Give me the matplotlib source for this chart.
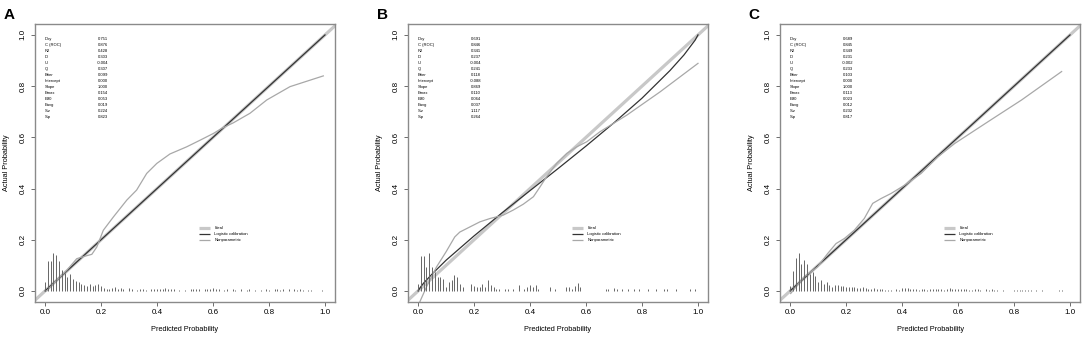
import matplotlib.pyplot as plt

plt.rcParams['font.family'] = ['Liberation Sans', 'DejaVu Sans']

# statistics printed in the top-left corner of each panel
stat_names = ["Dxy", "C (ROC)", "R2", "D", "U", "Q", "Brier", "Intercept",
              "Slope", "Emax", "E90", "Eavg", "S:z", "S:p"]
stats_a = ["0.751", "0.876", "0.428", "0.303", "-0.004", "0.307", "0.099",
           "0.000", "1.000", "0.154", "0.053", "0.019", "0.224", "0.823"]
stats_b = ["0.691", "0.846", "0.341", "0.237", "-0.004", "0.241", "0.118",
           "-0.088", "0.869", "0.110", "0.064", "0.037", "1.117", "0.264"]
stats_c = ["0.689", "0.845", "0.349", "0.231", "-0.002", "0.233", "0.103",
           "0.000", "1.000", "0.113", "0.023", "0.012", "0.232", "0.817"]

# logistic calibration curves
a_logit_x = [0.0, 1.0]
a_logit_y = [0.0, 1.0]
b_logit_x = [0.0, 0.01, 0.02, 0.05, 0.10, 0.20, 0.30, 0.40, 0.50, 0.60,
             0.70, 0.80, 0.90, 0.95, 0.99, 1.0]
b_logit_y = [0.0, 0.017, 0.031, 0.066, 0.120, 0.215, 0.305, 0.392, 0.478, 0.566,
             0.657, 0.753, 0.861, 0.922, 0.980, 1.0]
c_logit_x = [0.0, 1.0]
c_logit_y = [0.0, 1.0]

# nonparametric (loess) curves
a_np_x = [0.006, 0.04, 0.077, 0.113, 0.143, 0.167, 0.185, 0.208, 0.244, 0.292,
          0.327, 0.363, 0.399, 0.446, 0.506, 0.554, 0.601, 0.631, 0.673, 0.732,
          0.792, 0.875, 0.994]
a_np_y = [0.0, 0.04, 0.08, 0.126, 0.136, 0.143, 0.172, 0.237, 0.289, 0.355,
          0.394, 0.459, 0.498, 0.535, 0.563, 0.589, 0.615, 0.635, 0.657, 0.694,
          0.746, 0.798, 0.84]
b_np_x = [0.006, 0.03, 0.066, 0.10, 0.131, 0.149, 0.185, 0.221, 0.257, 0.304,
          0.34, 0.376, 0.412, 0.436, 0.459, 0.495, 0.531, 0.567, 0.603, 0.65,
          0.746, 0.865, 1.0]
b_np_y = [-0.043, 0.016, 0.094, 0.153, 0.211, 0.23, 0.25, 0.27, 0.283, 0.296,
          0.316, 0.339, 0.368, 0.407, 0.446, 0.498, 0.537, 0.563, 0.583, 0.622,
          0.687, 0.778, 0.889]
c_np_x = [0.002, 0.05, 0.098, 0.134, 0.164, 0.194, 0.229, 0.265, 0.295, 0.325,
          0.361, 0.409, 0.468, 0.528, 0.588, 0.707, 0.827, 0.97]
c_np_y = [-0.01, 0.055, 0.094, 0.146, 0.185, 0.205, 0.237, 0.283, 0.342, 0.361,
          0.381, 0.413, 0.459, 0.524, 0.576, 0.661, 0.746, 0.857]

# spike histograms of predicted probabilities
a_spike_x = [0.00, 0.01, 0.02, 0.03, 0.04, 0.05, 0.06, 0.07, 0.08, 0.09,
             0.10, 0.11, 0.12, 0.13, 0.14, 0.15, 0.16, 0.17, 0.18, 0.19,
             0.20, 0.21, 0.22, 0.23, 0.24, 0.25, 0.26, 0.27, 0.28, 0.30,
             0.31, 0.33, 0.34, 0.35, 0.36, 0.38, 0.39, 0.40, 0.41, 0.42,
             0.43, 0.44, 0.45, 0.46, 0.48, 0.50, 0.52, 0.53, 0.54, 0.55,
             0.57, 0.58, 0.59, 0.60, 0.61, 0.62, 0.64, 0.65, 0.67, 0.68,
             0.70, 0.72, 0.73, 0.75, 0.77, 0.79, 0.80, 0.82, 0.83, 0.84,
             0.85, 0.87, 0.89, 0.90, 0.91, 0.92, 0.94, 0.95, 0.99]
a_spike_h = [0.035, 0.117, 0.117, 0.150, 0.140, 0.117, 0.080, 0.070, 0.055, 0.065,
             0.045, 0.038, 0.033, 0.028, 0.024, 0.020, 0.026, 0.018, 0.022, 0.026,
             0.018, 0.012, 0.008, 0.006, 0.010, 0.016, 0.008, 0.012, 0.006, 0.010,
             0.006, 0.004, 0.006, 0.006, 0.004, 0.008, 0.006, 0.008, 0.006, 0.008,
             0.012, 0.008, 0.008, 0.008, 0.004, 0.004, 0.006, 0.008, 0.006, 0.006,
             0.008, 0.008, 0.006, 0.010, 0.006, 0.006, 0.004, 0.006, 0.006, 0.004,
             0.006, 0.004, 0.006, 0.004, 0.004, 0.006, 0.004, 0.006, 0.006, 0.004,
             0.006, 0.008, 0.006, 0.004, 0.006, 0.004, 0.004, 0.004, 0.004]
b_spike_x = [0.00, 0.01, 0.02, 0.03, 0.04, 0.05, 0.06, 0.07, 0.08, 0.09,
             0.10, 0.11, 0.12, 0.13, 0.14, 0.15, 0.16, 0.19, 0.20, 0.21,
             0.22, 0.23, 0.24, 0.25, 0.26, 0.27, 0.28, 0.29, 0.31, 0.32,
             0.34, 0.36, 0.38, 0.39, 0.40, 0.41, 0.42, 0.43, 0.47, 0.49,
             0.53, 0.54, 0.55, 0.56, 0.57, 0.58, 0.67, 0.68, 0.70, 0.71,
             0.73, 0.75, 0.77, 0.79, 0.82, 0.85, 0.88, 0.89, 0.92, 0.97,
             0.99]
b_spike_h = [0.026, 0.136, 0.136, 0.094, 0.150, 0.094, 0.074, 0.055, 0.055, 0.048,
             0.016, 0.035, 0.042, 0.061, 0.055, 0.028, 0.016, 0.028, 0.020, 0.016,
             0.016, 0.028, 0.016, 0.042, 0.022, 0.016, 0.009, 0.009, 0.009, 0.009,
             0.009, 0.022, 0.009, 0.016, 0.022, 0.016, 0.022, 0.009, 0.016, 0.009,
             0.016, 0.016, 0.009, 0.020, 0.030, 0.016, 0.009, 0.009, 0.012, 0.009,
             0.009, 0.009, 0.009, 0.009, 0.009, 0.009, 0.009, 0.009, 0.009, 0.009,
             0.009]
c_spike_x = [0.00, 0.01, 0.02, 0.03, 0.04, 0.05, 0.06, 0.07, 0.08, 0.09,
             0.10, 0.11, 0.12, 0.13, 0.14, 0.15, 0.16, 0.17, 0.18, 0.19,
             0.20, 0.21, 0.22, 0.23, 0.24, 0.25, 0.26, 0.27, 0.28, 0.29,
             0.30, 0.31, 0.32, 0.33, 0.34, 0.35, 0.36, 0.38, 0.39, 0.40,
             0.41, 0.42, 0.43, 0.44, 0.45, 0.46, 0.47, 0.48, 0.49, 0.50,
             0.51, 0.52, 0.53, 0.54, 0.55, 0.56, 0.57, 0.58, 0.59, 0.60,
             0.61, 0.62, 0.63, 0.64, 0.65, 0.66, 0.67, 0.68, 0.70, 0.71,
             0.72, 0.73, 0.74, 0.76, 0.80, 0.81, 0.82, 0.83, 0.84, 0.85,
             0.86, 0.88, 0.90, 0.96, 0.97]
c_spike_h = [0.020, 0.078, 0.130, 0.150, 0.107, 0.120, 0.104, 0.068, 0.074, 0.057,
             0.035, 0.044, 0.028, 0.035, 0.022, 0.016, 0.022, 0.022, 0.018, 0.018,
             0.015, 0.016, 0.014, 0.014, 0.012, 0.010, 0.014, 0.010, 0.008, 0.008,
             0.010, 0.006, 0.008, 0.006, 0.005, 0.004, 0.005, 0.006, 0.005, 0.010,
             0.010, 0.010, 0.008, 0.006, 0.006, 0.004, 0.008, 0.006, 0.004, 0.006,
             0.006, 0.008, 0.006, 0.006, 0.005, 0.008, 0.010, 0.008, 0.006, 0.006,
             0.006, 0.008, 0.006, 0.004, 0.004, 0.006, 0.006, 0.004, 0.006, 0.004,
             0.006, 0.004, 0.004, 0.004, 0.004, 0.004, 0.004, 0.004, 0.004, 0.004,
             0.004, 0.004, 0.004, 0.004, 0.004]

panels = [
    ("A", 0.0323, stats_a, a_logit_x, a_logit_y, a_np_x, a_np_y, a_spike_x, a_spike_h),
    ("B", 0.3764, stats_b, b_logit_x, b_logit_y, b_np_x, b_np_y, b_spike_x, b_spike_h),
    ("C", 0.7196, stats_c, c_logit_x, c_logit_y, c_np_x, c_np_y, c_spike_x, c_spike_h),
]

ticks = [0.0, 0.2, 0.4, 0.6, 0.8, 1.0]
tick_labels = ["0.0", "0.2", "0.4", "0.6", "0.8", "1.0"]

fig = plt.figure(figsize=(10.84, 3.37), dpi=100)

for letter, left, stats, lx, ly, nx, ny, sx, sh in panels:
    ax = fig.add_axes([left, 0.104, 0.2768, 0.825])
    ax.set_xlim(-0.036, 1.036)
    ax.set_ylim(-0.043, 1.043)

    # ideal line
    ax.plot([-0.1, 1.1], [-0.1, 1.1], color="#c8c8c8", lw=2.3, solid_capstyle="butt")
    ax.plot(lx, ly, color="#333333", lw=0.9)
    ax.plot(nx, ny, color="#a8a8a8", lw=0.9)
    ax.vlines(sx, 0, sh, color="#666666", lw=0.7)

    # stats block
    for i, (name, val) in enumerate(zip(stat_names, stats)):
        y = 0.983 - i * 0.0235
        ax.text(0.0, y, name, fontsize=3, va="center", ha="left")
        ax.text(0.225, y, val, fontsize=3, va="center", ha="right")

    # legend
    leg_items = [("Ideal", "#c8c8c8", 2.3), ("Logistic calibration", "#333333", 0.9),
                 ("Nonparametric", "#a8a8a8", 0.9)]
    for i, (lab, col, lw) in enumerate(leg_items):
        y = 0.246 - i * 0.023
        ax.plot([0.55, 0.59], [y, y], color=col, lw=lw, solid_capstyle="butt")
        ax.text(0.605, y, lab, fontsize=3, va="center", ha="left")

    ax.set_xticks(ticks)
    ax.set_xticklabels(tick_labels)
    ax.set_yticks(ticks)
    ax.set_yticklabels(tick_labels, rotation=90, va="center")
    ax.tick_params(axis="both", length=3, width=0.6, color="#555555", labelsize=5.8)
    ax.tick_params(axis="x", pad=2)
    ax.tick_params(axis="y", pad=3)
    for sp in ax.spines.values():
        sp.set_color("#8a8a8a")
        sp.set_linewidth(1.0)

    ax.set_xlabel("Predicted Probability", fontsize=5.3, labelpad=7)
    ax.set_ylabel("Actual Probability", fontsize=5.3, labelpad=7)

    fig.text(left - 0.029, 0.975, letter, fontsize=11, fontweight="bold",
             ha="left", va="top")

fig.savefig("out.png", dpi=100)
